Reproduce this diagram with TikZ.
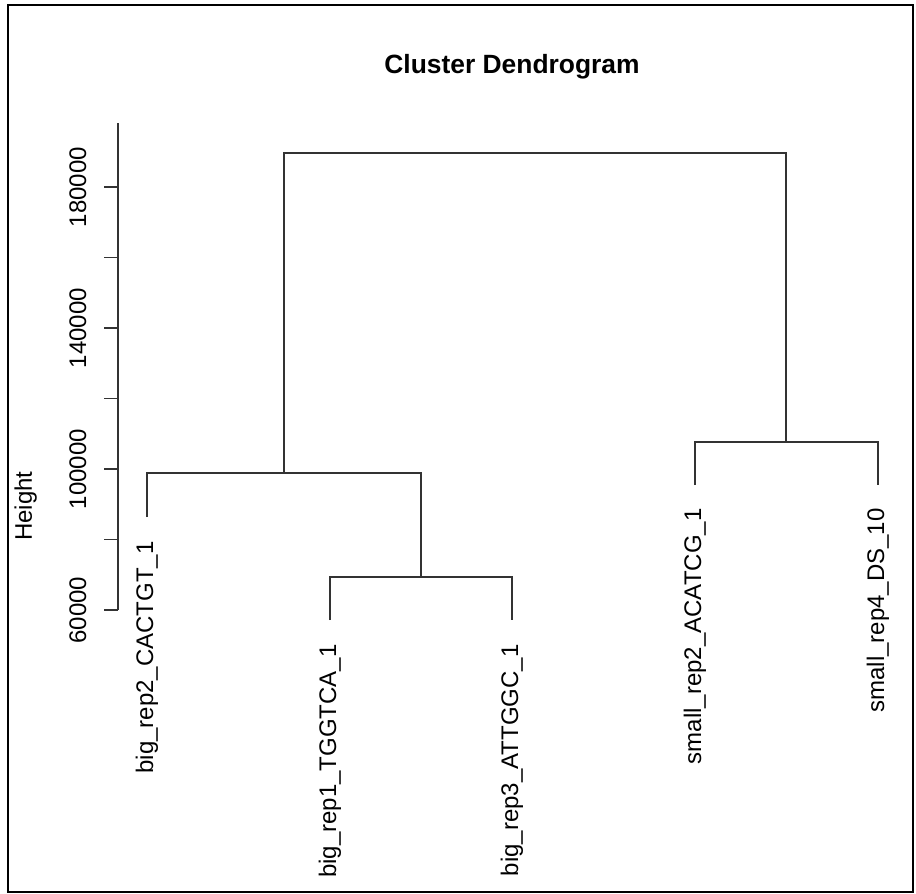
\documentclass[tikz,border=0pt]{standalone}
\usepackage{fontspec}
\setmainfont{Liberation Sans}
\begin{document}
\begin{tikzpicture}[x=0.5pt,y=-0.5pt,
    branch/.style={line width=0.75pt,black!80},
    leaflabel/.style={rotate=90,anchor=base east,inner sep=0pt,font=\fontsize{12}{14}\selectfont},
    ticklabel/.style={rotate=90,anchor=base,inner sep=0pt,font=\fontsize{12}{14}\selectfont}]
    \useasboundingbox (0,0) rectangle (916,894);
    \draw[line width=1.2pt] (8,5) rectangle (913,892);
    \node[inner sep=0pt,anchor=base,font=\bfseries\fontsize{13.2}{16}\selectfont] (title) at (512,73) {Cluster Dendrogram};
    \node[ticklabel] (ylab) at (32,506) {Height};
    \coordinate (axtop) at (118,123);
    \coordinate (axbot) at (118,610);
    \draw[branch] (axtop) -- (axbot);
    \foreach \h in {60,80,...,180}
        \draw[branch] (118,{610-(\h-60)*3.525}) -- ++(-14,0);
    \foreach \h in {60,100,140,180}
        \node[ticklabel] (tk\h) at (86,{610-(\h-60)*3.525}) {\h000};
    \coordinate (b2) at (147,517);
    \coordinate (b1) at (330,620);
    \coordinate (b3) at (512,620);
    \coordinate (s2) at (695,485);
    \coordinate (s4) at (878,485);
    \coordinate (mb13) at (421,577);
    \coordinate (mbig) at (284,473);
    \coordinate (msmall) at (786,442);
    \coordinate (root) at (535,153);
    \draw[branch] (b1) |- (mb13) -| (b3);
    \draw[branch] (b2) |- (mbig) -| (mb13);
    \draw[branch] (s2) |- (msmall) -| (s4);
    \draw[branch] (mbig) |- (root) -| (msmall);
    \node[leaflabel] (lb2) at (153,541) {big\_rep2\_CACTGT\_1};
    \node[leaflabel] (lb1) at (336,644) {big\_rep1\_TGGTCA\_1};
    \node[leaflabel] (lb3) at (518,644) {big\_rep3\_ATTGGC\_1};
    \node[leaflabel] (ls2) at (701,508) {small\_rep2\_ACATCG\_1};
    \node[leaflabel] (ls4) at (884,508) {small\_rep4\_DS\_10};
\end{tikzpicture}
\end{document}
